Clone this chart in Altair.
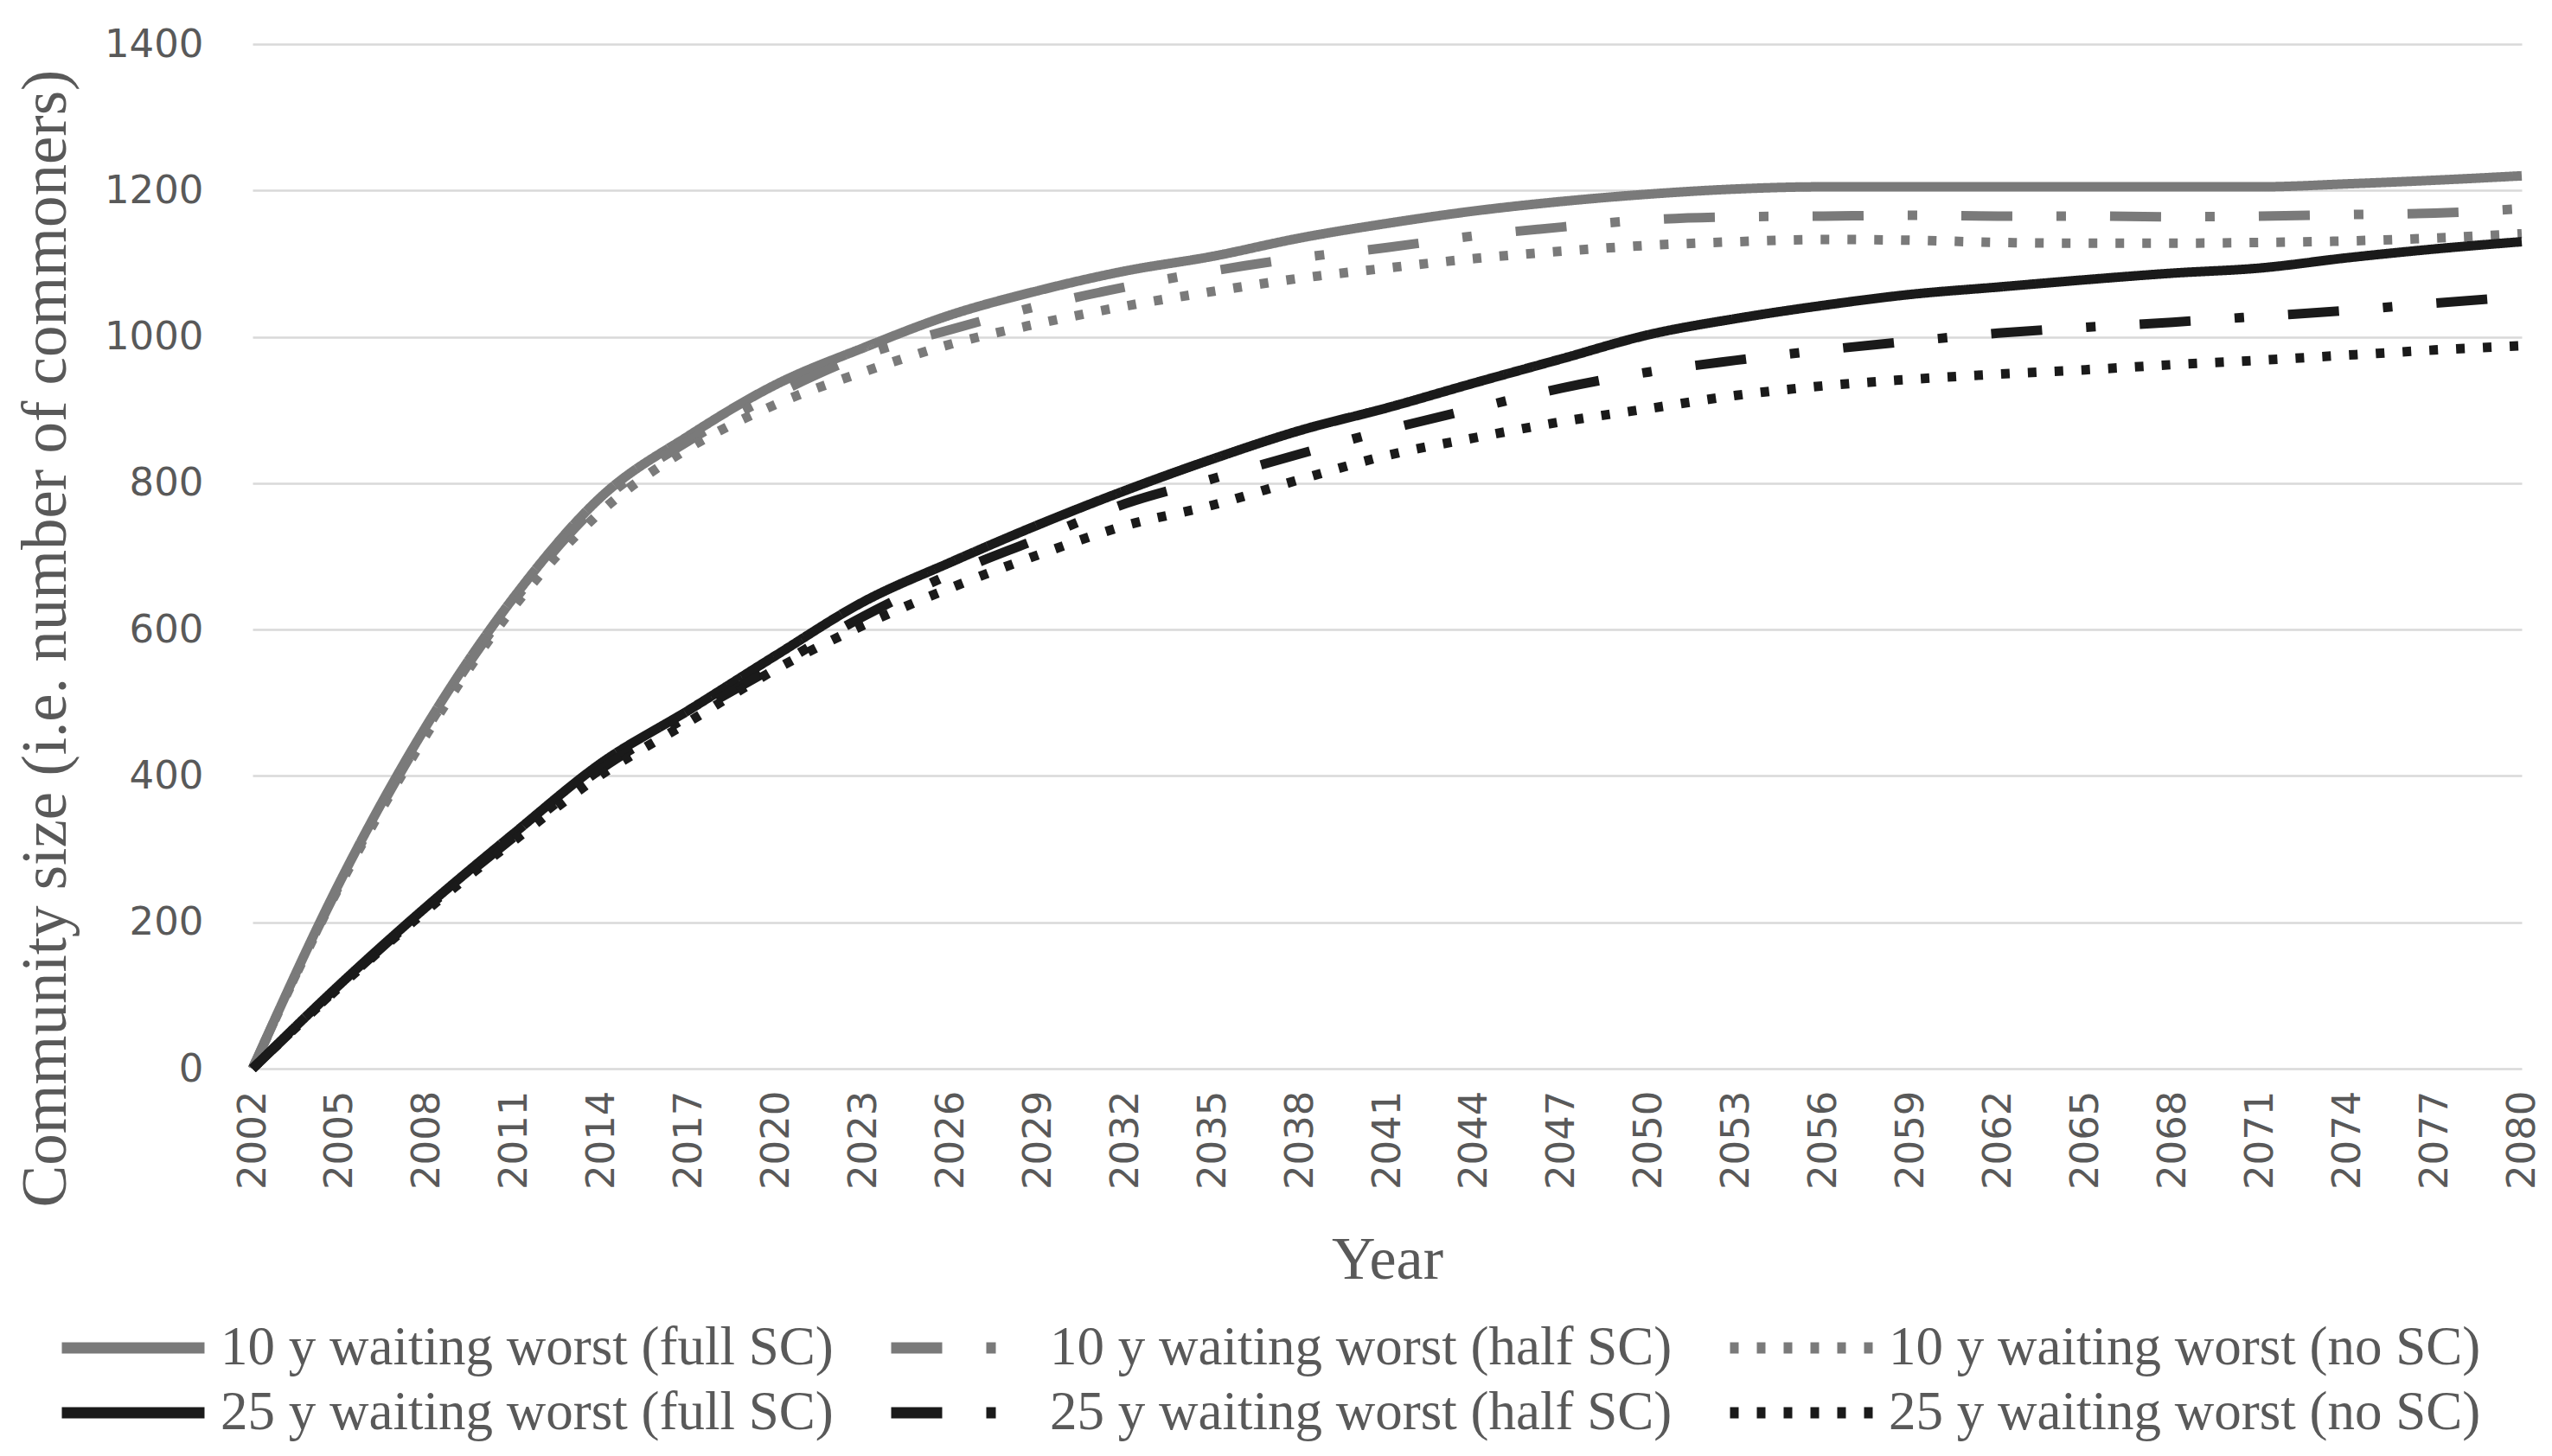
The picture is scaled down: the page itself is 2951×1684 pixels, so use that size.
import altair as alt
import pandas as pd

years = list(range(2002, 2081, 3))

names_10 = [
    "10 y waiting worst (full SC)",
    "10 y waiting worst (half SC)",
    "10 y waiting worst (no SC)",
]
names_25 = [
    "25 y waiting worst (full SC)",
    "25 y waiting worst (half SC)",
    "25 y waiting worst (no SC)",
]

s10_full = [0, 255, 470, 645, 782, 865, 935, 985, 1030, 1063, 1090, 1110, 1135, 1155,
            1172, 1185, 1195, 1202, 1205, 1205, 1205, 1205, 1205, 1205, 1209, 1214, 1220]
s10_half = [0, 252, 465, 640, 775, 858, 922, 975, 1010, 1042, 1068, 1090, 1108, 1122,
            1138, 1150, 1160, 1164, 1165, 1166, 1165, 1165, 1164, 1165, 1167, 1169, 1175]
s10_no = [0, 250, 458, 632, 762, 848, 908, 952, 990, 1018, 1042, 1062, 1080, 1094,
          1107, 1117, 1125, 1130, 1133, 1132, 1129, 1128, 1128, 1129, 1131, 1135, 1141]
s25_full = [0, 115, 222, 322, 418, 490, 565, 638, 692, 743, 790, 833, 872, 903,
            937, 970, 1003, 1025, 1043, 1058, 1068, 1078, 1087, 1094, 1108, 1120, 1130]
s25_half = [0, 113, 220, 317, 410, 482, 550, 618, 676, 724, 772, 806, 840, 873,
            902, 930, 952, 968, 982, 994, 1005, 1013, 1020, 1028, 1036, 1046, 1055]
s25_no = [0, 112, 217, 312, 402, 474, 546, 606, 657, 702, 742, 770, 805, 838,
          862, 884, 902, 920, 933, 942, 949, 955, 962, 968, 975, 982, 988]

series_names = names_10 + names_25
all_series = [s10_full, s10_half, s10_no, s25_full, s25_half, s25_no]

rows = []
for name, vals in zip(series_names, all_series):
    for yr, v in zip(years, vals):
        rows.append({"Year": yr, "Size": v, "Series": name})
df = pd.DataFrame(rows)

gray = "#7a7a7a"
black = "#1a1a1a"
dashes = [[1, 0], [59, 51, 11, 51], [10, 21]]


def make_legend(ly):
    return alt.Legend(
        title=None,
        orient="none",
        legendX=-227,
        legendY=ly,
        direction="horizontal",
        columns=3,
        symbolType="stroke",
        symbolSize=27225,
        symbolStrokeWidth=13,
        symbolOpacity=1,
        labelFont="Liberation Serif",
        labelFontSize=63,
        labelColor="#595959",
        labelOffset=12,
        labelLimit=0,
        columnPadding=40,
        padding=0,
    )


x_enc = alt.X(
    "Year:Q",
    scale=alt.Scale(domain=[2002, 2080], nice=False, zero=False),
    axis=alt.Axis(
        values=years, format="d", labelAngle=-90, title="Year",
        grid=False, domain=False, ticks=False,
        labelFont="DejaVu Sans", labelFontSize=45, labelColor="#595959",
        labelPadding=25,
        titleFont="Liberation Serif", titleFontSize=70, titleColor="#595959",
        titleFontWeight="normal", titlePadding=48,
    ),
)
y_enc = alt.Y(
    "Size:Q",
    scale=alt.Scale(domain=[0, 1400], nice=False),
    axis=alt.Axis(
        values=list(range(0, 1401, 200)), format="d",
        title="Community size (i.e. number of commoners)",
        grid=True, gridColor="#d9d9d9", gridWidth=2.5,
        domain=False, ticks=False,
        labelFont="DejaVu Sans", labelFontSize=45, labelColor="#595959",
        labelPadding=57,
        titleFont="Liberation Serif", titleFontSize=73, titleColor="#595959",
        titleFontWeight="normal", titleX=-239, titleY=687,
        titleBaseline="middle",
    ),
)


def layer_for(names, color, ly):
    leg = make_legend(ly)
    return alt.Chart(df).transform_filter(
        alt.FieldOneOfPredicate(field="Series", oneOf=names)
    ).mark_line(
        strokeWidth=11, strokeCap="butt", interpolate="monotone"
    ).encode(
        x=x_enc,
        y=y_enc,
        color=alt.Color(
            "Series:N",
            scale=alt.Scale(domain=names, range=[color] * 3),
            sort=names,
            legend=leg,
        ),
        strokeDash=alt.StrokeDash(
            "Series:N",
            scale=alt.Scale(domain=names, range=dashes),
            sort=names,
            legend=leg,
        ),
    )


chart = alt.layer(
    layer_for(names_10, gray, 1419),
    layer_for(names_25, black, 1494),
).resolve_scale(
    color="independent", strokeDash="independent"
).properties(
    width=2624,
    height=1185,
    padding={"left": 284, "top": 43, "right": 26, "bottom": 438},
    autosize=alt.AutoSizeParams(type="none"),
    background="white",
).configure_view(strokeWidth=0)

chart.save("out.html", embed_options={"renderer": "svg", "actions": False})
